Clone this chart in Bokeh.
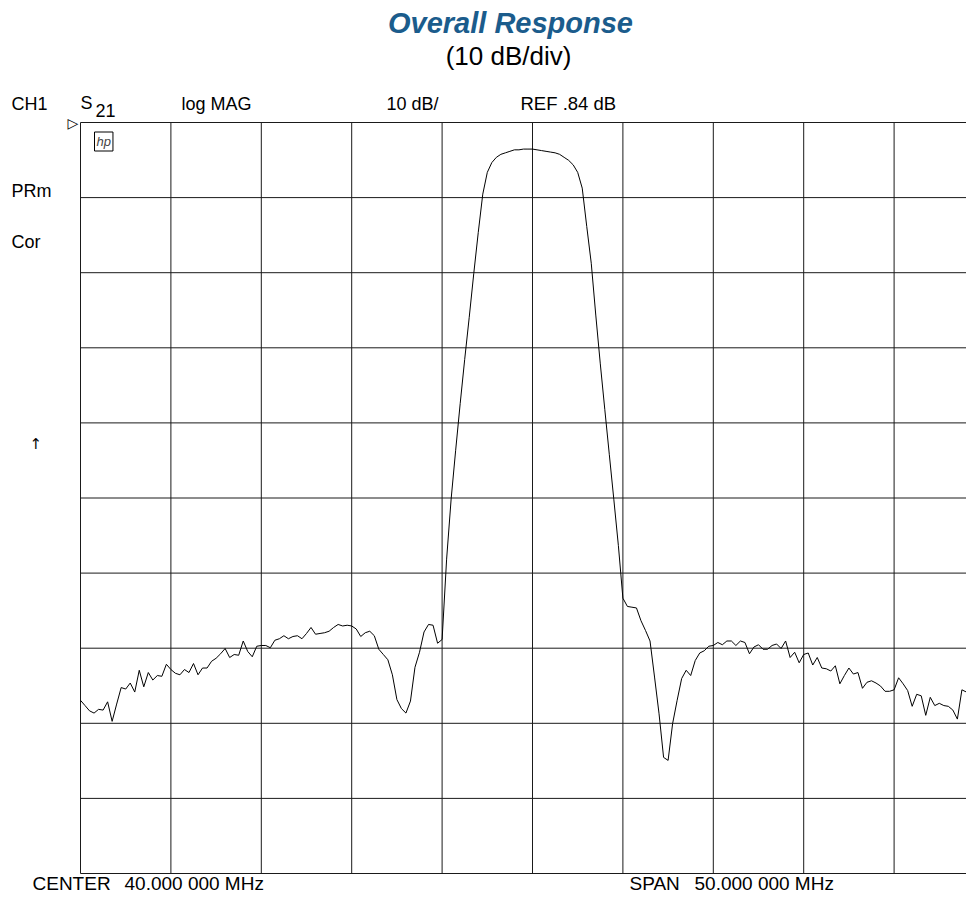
from bokeh.plotting import figure
from bokeh.models import Label, Range1d
from bokeh.embed import file_html
from bokeh.resources import INLINE

# ---- instrument settings (from the annotations) ----
center_mhz = 40.0
span_mhz = 50.0
n_points = 201
ref_db = 0.84
db_per_div = 10.0
n_div = 10

s21_db = [
    -76.1, -76.8, -77.5, -77.8, -77.3, -77.4, -76.3, -78.9, -76.6, -74.4,
    -74.6, -73.8, -75.0, -72.1, -74.3, -72.4, -73.4, -72.8, -72.9, -71.3,
    -72.0, -72.5, -72.7, -72.0, -72.4, -71.2, -72.7, -71.8, -71.8, -70.9,
    -70.5, -69.9, -69.2, -70.4, -70.0, -70.1, -68.2, -69.6, -70.3, -68.9,
    -68.8, -68.8, -69.1, -68.1, -67.9, -67.5, -67.9, -67.6, -67.5, -67.9,
    -67.2, -66.4, -67.3, -67.2, -67.1, -66.9, -66.4, -66.0, -66.2, -66.1,
    -66.2, -66.6, -67.6, -67.1, -66.9, -67.5, -69.3, -70.0, -70.7, -72.7,
    -76.0, -77.2, -77.8, -76.2, -71.7, -69.7, -67.0, -66.0, -66.1, -68.5,
    -68.0, -57.3, -49.3, -42.8, -36.6, -30.7, -25.1, -19.3, -13.8, -8.7,
    -5.8, -4.5, -3.8, -3.4, -3.2, -3.0, -2.8, -2.8, -2.7, -2.7,
    -2.7, -2.8, -2.9, -3.0, -3.1, -3.2, -3.4, -3.8, -4.2, -4.8,
    -5.8, -7.9, -13.0, -17.9, -24.8, -31.3, -37.4, -43.4, -49.4, -55.5,
    -62.5, -63.6, -63.7, -63.8, -65.5, -66.8, -68.2, -73.0, -77.9, -83.7,
    -84.1, -79.2, -76.1, -73.2, -72.1, -72.8, -70.8, -69.8, -69.5, -68.9,
    -68.8, -68.4, -68.7, -68.2, -68.2, -68.8, -68.2, -68.4, -69.9, -69.0,
    -68.7, -69.3, -69.3, -68.8, -68.6, -69.2, -68.2, -70.4, -69.7, -71.1,
    -70.0, -69.8, -71.4, -70.4, -71.8, -71.9, -72.2, -71.5, -73.9, -72.8,
    -71.8, -72.6, -72.4, -74.5, -73.7, -73.5, -73.8, -74.2, -74.9, -74.9,
    -74.7, -73.1, -73.9, -74.8, -76.9, -75.3, -75.5, -78.1, -75.7, -76.8,
    -76.5, -76.8, -76.9, -77.4, -78.6, -74.7, -75.0, -77.5, -76.9, -76.4,
    -76.1,
]

start_mhz = center_mhz - span_mhz / 2
stop_mhz = center_mhz + span_mhz / 2
step = span_mhz / (n_points - 1)
freq_mhz = [start_mhz + step * i for i in range(n_points)]

# ---- layout (picture pixels) ----
FIG_W, FIG_H = 966, 895
GRID_L, GRID_T = 80, 122      # top-left corner of the graticule
DIV_W, DIV_H = 90.4, 75.1     # size of one division
mhz_per_px = (span_mhz / n_div) / DIV_W
db_per_px = db_per_div / DIV_H

x_start = start_mhz - GRID_L * mhz_per_px
x_end = start_mhz + (FIG_W - GRID_L) * mhz_per_px
y_end = ref_db + GRID_T * db_per_px
y_start = ref_db - (FIG_H - GRID_T) * db_per_px

p = figure(width=FIG_W, height=FIG_H, output_backend="svg", toolbar_location=None,
           x_axis_location=None, y_axis_location=None,
           x_range=Range1d(x_start, x_end), y_range=Range1d(y_start, y_end),
           min_border=0)
p.outline_line_color = None
p.grid.visible = False
p.background_fill_color = "white"
p.border_fill_color = "white"

# graticule
y_bottom = ref_db - n_div * db_per_div
v_x = [start_mhz + k * span_mhz / n_div for k in range(n_div + 1)]
h_y = [ref_db - k * db_per_div for k in range(n_div + 1)]
p.segment(x0=v_x, y0=[y_bottom] * len(v_x), x1=v_x, y1=[ref_db] * len(v_x),
          line_color="#1a1a1a", line_width=1)
p.segment(x0=[start_mhz] * len(h_y), y0=h_y, x1=[stop_mhz] * len(h_y), y1=h_y,
          line_color="#1a1a1a", line_width=1)

p.line(freq_mhz, s21_db, line_color="black", line_width=1)


def X(px):
    return x_start + px * mhz_per_px


def Y(py):
    return y_end - py * db_per_px


FONT = "Liberation Sans"


def lab(px, py, text, size=18, align="left", style="normal", color="black", font=FONT):
    p.add_layout(Label(x=X(px), y=Y(py), text=text, text_font=font,
                       text_font_size=f"{size}px", text_align=align,
                       text_baseline="alphabetic", text_font_style=style,
                       text_color=color))


lab(510, 22, "Overall Response", size=29, align="center", style="bold italic", color="#1b5c8c")
lab(508, 55, "(10 dB/div)", size=26, align="center")

lab(11, 103, "CH1")
lab(80, 102, "S")
lab(95, 110, "21", size=18)
lab(181, 103, "log MAG")
lab(386, 103, "10 dB/")
lab(520, 103, "REF .84 dB", size=18.5)
lab(11, 190, "PRm")
lab(11, 241, "Cor")
lab(29, 443, "\u2191", size=15, font="DejaVu Sans")
lab(67, 122, "\u25b7", size=14, font="DejaVu Sans")

p.add_layout(Label(x=X(94), y=Y(141), text="hp", text_font=FONT, text_font_size="13px",
                   text_font_style="italic", text_baseline="alphabetic",
                   border_line_color="black", border_line_width=1, padding=2))

lab(32, 883, "CENTER", size=19)
lab(124, 883, "40.000 000 MHz", size=19)
lab(629, 883, "SPAN", size=19)
lab(694, 883, "50.000 000 MHz", size=19)

open("out.html", "w").write(file_html(p, INLINE))
